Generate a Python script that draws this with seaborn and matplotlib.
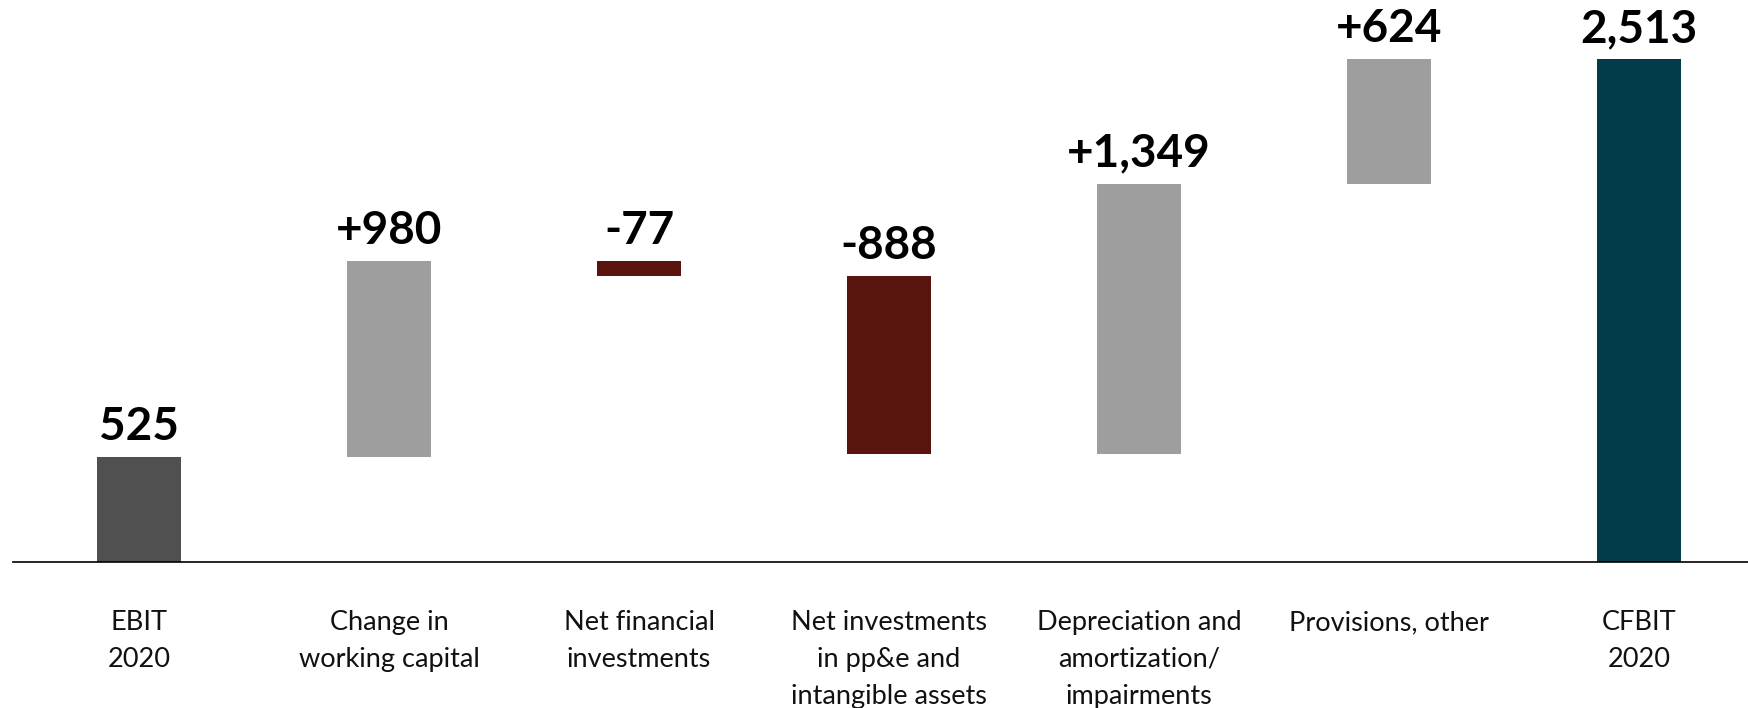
import matplotlib
matplotlib.use("Agg")
import matplotlib.pyplot as plt
import seaborn as sns
import numpy as np

# Cash flow bridge from EBIT to CFBIT, 2020 (EUR million)
categories = [
    "EBIT\n2020",
    "Change in\nworking capital",
    "Net financial\ninvestments",
    "Net investments\nin pp&e and\nintangible assets",
    "Depreciation and\namortization/\nimpairments",
    "Provisions, other",
    "CFBIT\n2020",
]
values = [525, 980, -77, -888, 1349, 624, 2513]
kinds = ["total", "delta", "delta", "delta", "delta", "delta", "total"]
value_labels = ["525", "+980", "-77", "-888", "+1,349", "+624", "2,513"]
bar_colors = ["#505050", "#9e9e9e", "#5a140e", "#5a140e", "#9e9e9e", "#9e9e9e", "#023c4a"]

# Floating segments for the bridge
bottoms, heights, tops = [], [], []
running = 0
for v, k in zip(values, kinds):
    if k == "total":
        bottoms.append(0)
        heights.append(v)
        running = v
    else:
        start = running
        running = running + v
        bottoms.append(min(start, running))
        heights.append(abs(v))
    tops.append(bottoms[-1] + heights[-1])

sns.set_theme(style="white")
plt.rcParams["font.family"] = ["Lato", "DejaVu Sans"]

W, H, DPI = 1748, 708, 100
fig = plt.figure(figsize=(W / DPI, H / DPI), dpi=DPI)
base_px = 562
ax = fig.add_axes([0, (H - base_px) / H, 1, base_px / H])

sns.barplot(x=categories, y=heights, bottom=bottoms, width=84 / 250,
            color="#9e9e9e", ax=ax, linewidth=0, saturation=1)
for patch, c in zip(ax.patches, bar_colors):
    patch.set_facecolor(c)

first_c = 139
ax.set_xlim(-first_c / 250, (W - first_c) / 250)
ax.set_ylim(0, base_px / 0.2)

for i, (top, lab) in enumerate(zip(tops, value_labels)):
    ax.annotate(lab, xy=(i, top), xytext=(0, 12.5), textcoords="offset points",
                ha="center", va="baseline", fontsize=33, fontweight="bold",
                color="black")

for s in ["top", "left", "right"]:
    ax.spines[s].set_visible(False)
ax.spines["bottom"].set_color("black")
ax.spines["bottom"].set_linewidth(1.2)
ax.spines["bottom"].set_bounds((13 - first_c) / 250, (W - first_c) / 250)

ax.set_yticks([])
ax.set_xlabel("")
ax.set_ylabel("")
ax.tick_params(axis="x", length=0, pad=34.5)
for t in ax.get_xticklabels():
    t.set_fontsize(19.5)
    t.set_color("#111111")
    t.set_linespacing(1.6)
    t.set_verticalalignment("top")

fig.savefig("out.png", dpi=DPI, facecolor="white")
